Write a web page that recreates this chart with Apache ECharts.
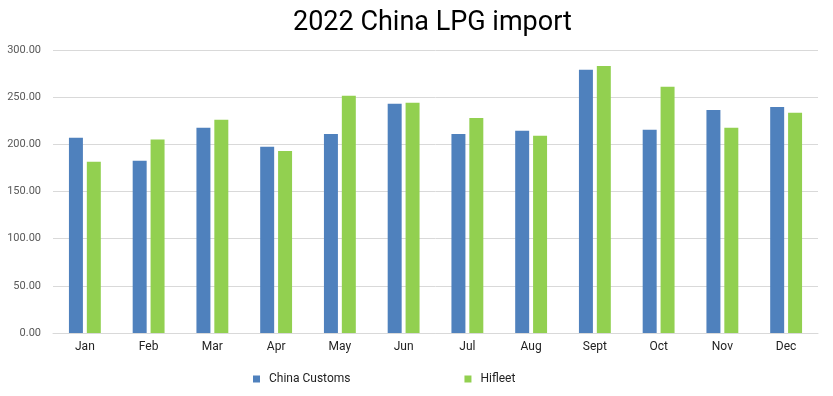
<!DOCTYPE html>
<html><head><meta charset="utf-8">
<script src="https://cdn.jsdelivr.net/npm/echarts@6/dist/echarts.min.js"></script>
<style>html,body{margin:0;padding:0;background:#fff}#c{width:833px;height:396px}</style>
</head><body><div id="c"></div>
<script>
const categories = ['Jan','Feb','Mar','Apr','May','Jun','Jul','Aug','Sept','Oct','Nov','Dec'];
const chinaCustoms = [207, 182.5, 217.5, 197.5, 211, 243, 211, 214.5, 279, 215.5, 236.5, 239.5];
const hifleet = [181.5, 205, 226, 193, 251.5, 244, 228, 209, 283, 261, 217.5, 233.5];
const yTicks = [0, 50, 100, 150, 200, 250, 300];

const chart = echarts.init(document.getElementById('c'));
chart.setOption({
  animation: false,
  textStyle: {fontFamily: 'Roboto'},
  title: {text: '2022 China LPG import', left: 288, top: 5,
    textStyle: {fontFamily: 'Roboto', fontSize: 27, fontWeight: 'normal', color: '#000'}},
  legend: {bottom: 6, left: 248, itemWidth: 7, itemHeight: 7, itemGap: 114, icon: 'rect',
    textStyle: {fontFamily: 'Roboto', fontSize: 12, color: '#222', padding: [0, 0, 0, 4]}},
  grid: {left: 53, right: 15, top: 50, bottom: 63, containLabel: false},
  xAxis: {type: 'category', data: categories,
    axisLine: {lineStyle: {color: '#d9d9d9'}}, axisTick: {show: false},
    axisLabel: {color: '#222', fontSize: 12, margin: 8}},
  yAxis: {type: 'value', min: yTicks[0], max: yTicks[yTicks.length-1], interval: 50,
    axisLine: {show: false}, axisTick: {show: false},
    splitLine: {lineStyle: {color: '#d9d9d9'}},
    axisLabel: {color: '#595959', fontSize: 11, margin: 12, formatter: v => v.toFixed(2)}},
  series: [
    {name: 'China Customs', type: 'bar', data: chinaCustoms, itemStyle: {color: '#4f81bd'},
     barGap: '28%', barCategoryGap: '50%'},
    {name: 'Hifleet', type: 'bar', data: hifleet, itemStyle: {color: '#92d050'}}
  ]
});
</script></body></html>
